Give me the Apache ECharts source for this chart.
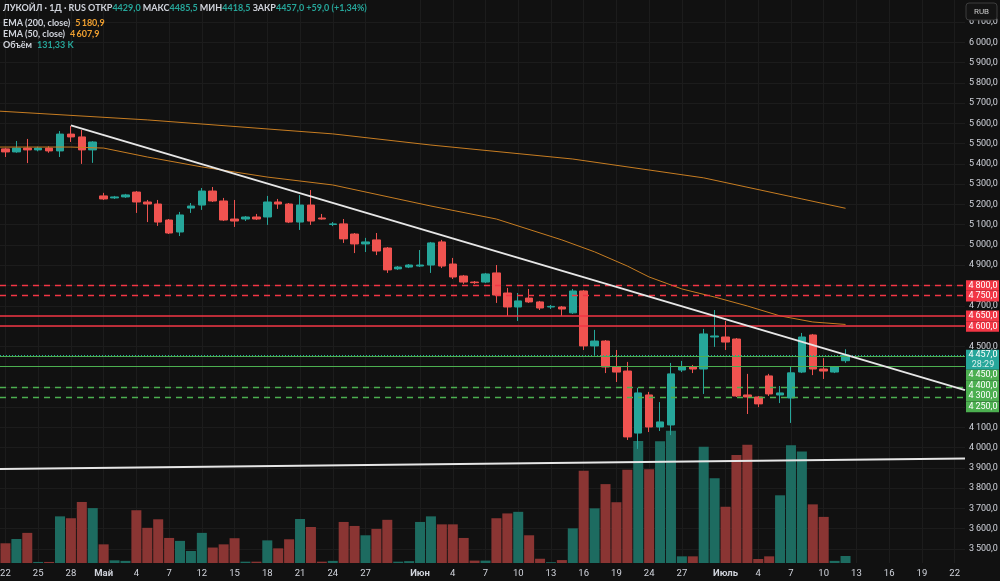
<!DOCTYPE html>
<html>
<head>
<meta charset="utf-8">
<script src="https://cdn.jsdelivr.net/npm/echarts@6/dist/echarts.min.js"></script>
<style>
  html, body { margin: 0; padding: 0; background: #111111; }
  #chart { width: 1000px; height: 581px; }
</style>
</head>
<body>
<div id="chart"></div>
<script>
// daily bars, slot 0 = 22 апр; prices
var opens  = [5474,5459,5478,5469,5478,5464,5547,5533,5469,5242,5232,5237,5261,5212,5202,5123,5064,5182,5197,5266,
              5217,5128,5128,5138,5138,5212,5202,5113,5197,5133,5101,5104,5054,5005,5025,4985,4882,4891,4896,4901,
              5015,4906,4847,4817,4817,4862,4763,4694,4738,4719,4694,4694,4665,4773,4502,4526,4398,4378,4072,4260,
              4102,4112,4383,4398,4388,4546,4546,4536,4260,4250,4354,4260,4245,4373,4556,4388,4373,4429];
var closes = [5459,5478,5469,5478,5464,5547,5533,5469,5508,5227,5237,5247,5212,5202,5113,5059,5148,5192,5266,5217,
              5123,5118,5138,5128,5212,5202,5113,5197,5118,5128,5104,5030,5005,5015,4970,4877,4891,4901,4901,5010,
              4896,4842,4817,4814,4857,4753,4694,4724,4719,4689,4697,4684,4773,4502,4526,4398,4373,4053,4270,4102,
              4127,4364,4398,4388,4561,4551,4521,4255,4250,4216,4265,4270,4369,4546,4388,4378,4398,4457];
var highs  = [5479,5513,5523,5485,5487,5562,5587,5567,5512,5257,5242,5252,5266,5222,5222,5128,5163,5207,5281,5286,
              5232,5222,5143,5153,5242,5227,5207,5246,5271,5153,5113,5128,5059,5035,5059,4990,4896,4906,4975,5015,
              5025,4936,4852,4822,4862,4901,4788,4763,4783,4724,4704,4699,4783,4778,4581,4531,4482,4423,4295,4275,
              4225,4418,4428,4408,4586,4679,4625,4541,4364,4255,4364,4304,4398,4566,4561,4442,4403,4485.5];
var lows   = [5434,5455,5404,5462,5455,5434,5508,5400,5405,5222,5227,5232,5158,5113,5094,5054,5044,5158,5173,5212,
              5118,5089,5118,5123,5099,5178,5108,5074,5099,5125,5093,5010,4960,4965,4950,4862,4877,4886,4891,4862,
              4886,4832,4808,4808,4812,4714,4650,4625,4714,4679,4684,4650,4660,4482,4457,4368,4324,4038,3994,4077,
              4082,4062,4373,4368,4265,4497,4482,4250,4166,4200,4255,4220,4122,4368,4358,4339,4368,4418.5];
// volume, thousands
var volumes = [370,450,565,20,20,875,840,1145,1030,350,50,40,990,660,820,470,415,225,565,290,
               350,465,25,25,425,275,445,825,675,25,40,770,695,520,640,810,25,35,770,875,
               725,725,470,45,45,840,930,960,520,80,15,55,650,1730,1025,1480,1140,1750,2290,1760,
               2285,2480,125,125,2180,1590,1055,2025,2220,75,125,1270,2210,2090,1100,865,40,131.33];

var ema200Slots = [-0.5, 13, 30, 39, 52, 64, 73, 77];
var ema200Values = [5660, 5617, 5548, 5493, 5424, 5331, 5227, 5180.9];
var ema50Slots = [-0.5, 6, 9, 13, 18, 24, 30, 39, 45, 51, 54, 57, 59, 62, 65, 68, 71, 74, 77];
var ema50Values = [5483, 5483, 5478, 5434, 5385, 5335, 5296, 5192, 5128, 5025, 4966, 4896, 4842, 4783, 4743, 4699, 4650, 4620, 4607.9];

// drawn trendlines: [slot, price] ends
var trendDown = [[6, 5590], [87.95, 4284]];
var trendFloor = [[-0.5, 3895], [87.95, 3947]];

// horizontal levels
var resistDashed = [4800, 4750];
var resistSolid = [4650, 4600];
var supportSolid = [4450, 4400];
var supportDashed = [4300, 4250];

var tickSlots = [0,3,6,9,12,15,18,21,24,27,30,33,38,41,44,47,50,53,56,59,62,66,69,72,75,78,81,84,87];
var tickLabels = ['22','25','28','Май','4','7','12','15','18','21','24','27','Июн','4','7','10','13','16','19','24','27','Июль','4','7','10','13','16','19','22'];
var monthLabels = ['Май','Июн','Июль'];

var priceSteps = [];
for (var s = 3500; s <= 6100; s += 100) priceSteps.push(s);

var countdown = '28:29';
var volumeNow = '131,33 K';

var UP = '#26a69a', DOWN = '#ef5350';
var VOL_UP = '#1d6b60', VOL_DOWN = '#8a3533';
var RED = '#f23645', GREEN = '#4caf50';
var FONT = 'Roboto, "Liberation Sans", sans-serif';
var LEG = 'Lato, Roboto, sans-serif';

function fmt1(v) { return v.toFixed(1).replace('.', ','); }
function fmtSp(v) {
  var p = v.toFixed(1).split('.');
  return p[0].replace(/\B(?=(\d{3})+(?!\d))/g, '\u2009') + ',' + p[1];
}

var n = closes.length;
var lastO = opens[n - 1], lastH = highs[n - 1], lastL = lows[n - 1], lastC = closes[n - 1];
var chg = lastC - closes[n - 2];
var chgPct = chg / closes[n - 2] * 100;

var candles = opens.map(function (o, i) { return [i, o, closes[i], lows[i], highs[i]]; });
var vols = volumes.map(function (v, i) { return [i, v]; });
function pairs(xs, ys) { return xs.map(function (x, i) { return [x, ys[i]]; }); }

var levelLines = [];
resistDashed.forEach(function (v) { levelLines.push({ yAxis: v, lineStyle: { color: RED, type: [6, 5], width: 1.3 } }); });
resistSolid.forEach(function (v) { levelLines.push({ yAxis: v, lineStyle: { color: RED, type: 'solid', width: 1.5 } }); });
supportSolid.forEach(function (v) { levelLines.push({ yAxis: v, lineStyle: { color: GREEN, type: 'solid', width: 1.2 } }); });
supportDashed.forEach(function (v) { levelLines.push({ yAxis: v, lineStyle: { color: GREEN, type: [6, 5], width: 1.3 } }); });
levelLines.push({ yAxis: lastC, lineStyle: { color: UP, type: [1, 2], width: 1 } });

var rich = {
  w: { color: '#d1d4dc', fontSize: 9, fontFamily: LEG, lineHeight: 11 },
  g: { color: '#26a69a', fontSize: 9, fontFamily: LEG, lineHeight: 11 },
  o: { color: '#f0a030', fontSize: 9, fontFamily: LEG, lineHeight: 11 }
};

var option = {
  backgroundColor: '#111111',
  animation: false,
  title: [
    { left: 3, top: 3, padding: 0, textStyle: { rich: rich },
      text: '{w|ЛУКОЙЛ · 1Д · RUS ОТКР}{g|' + fmt1(lastO) + '}{w| МАКС}{g|' + fmt1(lastH) + '}{w| МИН}{g|' + fmt1(lastL) +
            '}{w| ЗАКР}{g|' + fmt1(lastC) + ' +' + fmt1(chg) + ' (+' + chgPct.toFixed(2).replace('.', ',') + '%)}' },
    { left: 3, top: 14, padding: 0, textStyle: { rich: rich },
      text: '{w|EMA (200, close)} {o|' + fmtSp(ema200Values[ema200Values.length - 1]) + '}' },
    { left: 3, top: 25, padding: 0, textStyle: { rich: rich },
      text: '{w|EMA (50, close)} {o|' + fmtSp(ema50Values[ema50Values.length - 1]) + '}' },
    { left: 3, top: 36, padding: 0, textStyle: { rich: rich },
      text: '{w|Объём} {g|' + volumeNow + '}' }
  ],
  grid: { left: 0, right: 35, top: 0, bottom: 18, containLabel: false, outerBoundsMode: 'none' },
  xAxis: {
    type: 'value', min: -0.5, max: 87.95,
    axisLine: { show: false },
    axisTick: { show: false, customValues: tickSlots },
    splitLine: { show: true, lineStyle: { color: '#1c1c1c', width: 1 } },
    axisLabel: {
      customValues: tickSlots, margin: 6, color: '#d1d4dc', fontSize: 9.5, fontFamily: FONT,
      formatter: function (v) {
        var t = tickLabels[tickSlots.indexOf(Math.round(v))] || '';
        return monthLabels.indexOf(t) >= 0 ? '{b|' + t + '}' : t;
      },
      rich: { b: { fontWeight: 'bold', color: '#d1d4dc', fontSize: 9.5, fontFamily: FONT } }
    }
  },
  yAxis: [
    { type: 'value', position: 'right', min: 3431, max: 6208.5, scale: true,
      axisLine: { show: false },
      axisTick: { show: false, customValues: priceSteps },
      splitLine: { show: true, lineStyle: { color: '#1c1c1c', width: 1 } },
      axisLabel: { customValues: priceSteps, margin: 4, color: '#d1d4dc', fontSize: 9, fontFamily: FONT,
                   align: 'left', formatter: fmtSp } },
    { type: 'value', min: 0, max: 10562, show: false, splitLine: { show: false } }
  ],
  series: [
    { type: 'bar', name: 'Объём', xAxisIndex: 0, yAxisIndex: 1, data: vols, barWidth: 10, z: 1,
      itemStyle: { color: function (p) { var i = p.data[0]; return closes[i] >= opens[i] ? VOL_UP : VOL_DOWN; } } },
    { type: 'candlestick', name: 'ЛУКОЙЛ', data: candles, z: 2, barWidth: 8,
      dimensions: ['slot', 'open', 'close', 'lowest', 'highest'],
      encode: { x: 'slot', y: ['open', 'close', 'lowest', 'highest'] },
      itemStyle: { color: UP, color0: DOWN, borderColor: UP, borderColor0: DOWN, borderWidth: 1 },
      markLine: { silent: true, symbol: ['none', 'none'], label: { show: false }, z: 6, data: levelLines } },
    { type: 'line', name: 'EMA200', data: pairs(ema200Slots, ema200Values), showSymbol: false, z: 3,
      lineStyle: { color: '#c77d22', width: 1 } },
    { type: 'line', name: 'EMA50', data: pairs(ema50Slots, ema50Values), showSymbol: false, z: 3,
      lineStyle: { color: '#c77d22', width: 1 } },
    { type: 'line', name: 'trend1', data: trendDown, showSymbol: false, z: 7,
      lineStyle: { color: '#e6e6e6', width: 2 } },
    { type: 'line', name: 'trend2', data: trendFloor, showSymbol: false, z: 7,
      lineStyle: { color: '#e6e6e6', width: 2 } }
  ]
};

var chart = echarts.init(document.getElementById('chart'));
chart.setOption(option);

// right-scale boxes, stacked so they do not overlap (like the terminal does)
var boxes = [];
resistDashed.concat(resistSolid).forEach(function (v) { boxes.push({ v: v, color: RED, lines: [fmtSp(v)] }); });
supportSolid.concat(supportDashed).forEach(function (v) { boxes.push({ v: v, color: GREEN, lines: [fmtSp(v)] }); });
boxes.push({ v: lastC, color: UP, lines: [fmtSp(lastC), countdown] });
boxes.forEach(function (b) { b.y = chart.convertToPixel({ yAxisIndex: 0 }, b.v); });
boxes.sort(function (a, b) { return a.y - b.y || b.lines.length - a.lines.length; });
var LH = 10.6, prevBottom = -1e9;
boxes.forEach(function (b) {
  b.h = b.lines.length === 1 ? LH : 20;
  var top = b.y - LH / 2;
  if (top < prevBottom) top = prevBottom;
  b.top = top; b.bottom = top + b.h; prevBottom = b.bottom;
});

var plain = priceSteps.filter(function (v) {
  var y = chart.convertToPixel({ yAxisIndex: 0 }, v);
  return !boxes.some(function (b) { return y >= b.top - 2 && y <= b.bottom + 2; });
});

var gx = chart.getWidth() - 35;
var gfx = [];
boxes.forEach(function (b) {
  gfx.push({ type: 'rect', z: 100, shape: { x: gx + 1, y: b.top, width: 33, height: b.h }, style: { fill: b.color } });
  b.lines.forEach(function (t, k) {
    gfx.push({ type: 'text', z: 101, x: gx + 18, y: b.top + LH / 2 + k * 9.6,
      style: { text: t, fill: k ? '#d8f0ec' : '#ffffff', font: '9px ' + FONT, textAlign: 'center', textVerticalAlign: 'middle' } });
  });
});
gfx.push({ type: 'rect', z: 100, shape: { x: gx + 1, y: 3, width: 31, height: 17, r: 3 },
  style: { fill: '#141414', stroke: '#3c3c3c', lineWidth: 1 } });
gfx.push({ type: 'text', z: 101, x: gx + 16.5, y: 11.5,
  style: { text: 'RUB', fill: '#c8c8c8', font: '8px ' + FONT, textAlign: 'center', textVerticalAlign: 'middle' } });

chart.setOption({ yAxis: [{ axisLabel: { customValues: plain } }, {}], graphic: gfx });
</script>
</body>
</html>
